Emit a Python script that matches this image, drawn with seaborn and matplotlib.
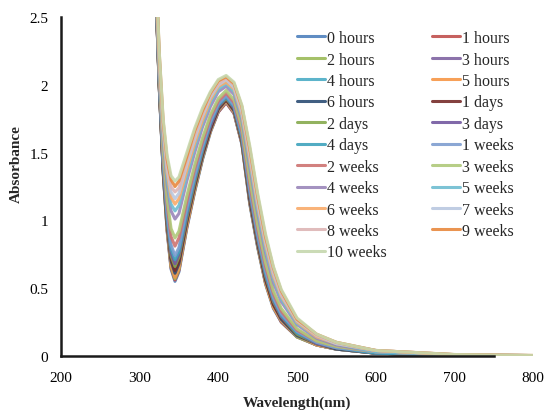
import matplotlib
matplotlib.use("Agg")
import matplotlib.pyplot as plt
import seaborn as sns
import pandas as pd

# wavelength grid (nm)
wavelength = [320, 325, 330, 335, 340, 345, 350, 360, 370, 380, 390, 400, 410,
              420, 430, 440, 450, 460, 470, 480, 500, 525, 550, 600, 700, 800]

series_names = ["0 hours", "1 hours", "2 hours", "3 hours", "4 hours", "5 hours",
                "6 hours", "1 days", "2 days", "3 days", "4 days", "1 weeks",
                "2 weeks", "3 weeks", "4 weeks", "5 weeks", "6 weeks", "7 weeks",
                "8 weeks", "9 weeks", "10 weeks"]

abs_0h = [2.80, 1.98, 1.35, 0.92, 0.64, 0.55, 0.62, 0.94, 1.21, 1.45, 1.65, 1.80, 1.87, 1.79, 1.56, 1.12, 0.80, 0.53, 0.35, 0.25, 0.14, 0.08, 0.05, 0.02, 0.005, 0.0]
abs_1h = [2.80, 1.99, 1.36, 0.93, 0.65, 0.56, 0.63, 0.95, 1.22, 1.46, 1.66, 1.80, 1.87, 1.79, 1.57, 1.13, 0.81, 0.54, 0.36, 0.25, 0.14, 0.08, 0.05, 0.02, 0.005, 0.0]
abs_2h = [2.81, 1.99, 1.36, 0.94, 0.66, 0.57, 0.64, 0.96, 1.22, 1.46, 1.66, 1.81, 1.88, 1.80, 1.57, 1.13, 0.81, 0.54, 0.36, 0.26, 0.14, 0.08, 0.05, 0.02, 0.005, 0.0]
abs_3h = [2.81, 1.99, 1.37, 0.95, 0.68, 0.59, 0.66, 0.97, 1.23, 1.47, 1.67, 1.81, 1.88, 1.80, 1.57, 1.14, 0.82, 0.55, 0.37, 0.26, 0.15, 0.08, 0.05, 0.02, 0.005, 0.0]
abs_4h = [2.81, 2.00, 1.37, 0.95, 0.68, 0.59, 0.66, 0.97, 1.24, 1.47, 1.67, 1.81, 1.88, 1.80, 1.58, 1.15, 0.82, 0.55, 0.37, 0.26, 0.15, 0.08, 0.05, 0.02, 0.005, 0.0]
abs_5h = [2.81, 1.99, 1.37, 0.94, 0.67, 0.58, 0.65, 0.96, 1.23, 1.47, 1.66, 1.81, 1.88, 1.80, 1.57, 1.14, 0.82, 0.54, 0.36, 0.26, 0.15, 0.08, 0.05, 0.02, 0.005, 0.0]
abs_6h = [2.82, 2.00, 1.38, 0.97, 0.70, 0.61, 0.68, 0.99, 1.25, 1.48, 1.67, 1.82, 1.89, 1.81, 1.58, 1.15, 0.83, 0.56, 0.38, 0.27, 0.15, 0.09, 0.05, 0.02, 0.005, 0.0]
abs_1d = [2.82, 2.01, 1.39, 0.98, 0.72, 0.63, 0.70, 1.00, 1.26, 1.49, 1.68, 1.83, 1.89, 1.82, 1.59, 1.17, 0.84, 0.57, 0.38, 0.28, 0.16, 0.09, 0.06, 0.02, 0.006, 0.0]
abs_2d = [2.83, 2.02, 1.41, 1.00, 0.74, 0.66, 0.73, 1.02, 1.28, 1.51, 1.70, 1.84, 1.90, 1.83, 1.60, 1.19, 0.86, 0.59, 0.40, 0.29, 0.16, 0.09, 0.06, 0.02, 0.006, 0.0]
abs_3d = [2.84, 2.03, 1.42, 1.02, 0.76, 0.68, 0.75, 1.04, 1.30, 1.52, 1.70, 1.84, 1.91, 1.83, 1.61, 1.20, 0.87, 0.60, 0.41, 0.29, 0.17, 0.09, 0.06, 0.02, 0.006, 0.0]
abs_4d = [2.84, 2.04, 1.44, 1.04, 0.79, 0.71, 0.77, 1.06, 1.31, 1.53, 1.72, 1.85, 1.91, 1.84, 1.62, 1.22, 0.89, 0.61, 0.42, 0.30, 0.17, 0.10, 0.06, 0.02, 0.006, 0.0]
abs_1w = [2.85, 2.05, 1.45, 1.07, 0.82, 0.74, 0.80, 1.09, 1.33, 1.55, 1.73, 1.86, 1.92, 1.85, 1.64, 1.23, 0.90, 0.63, 0.43, 0.31, 0.18, 0.10, 0.06, 0.03, 0.006, 0.001]
abs_2w = [2.87, 2.08, 1.49, 1.12, 0.88, 0.81, 0.87, 1.14, 1.38, 1.58, 1.76, 1.88, 1.94, 1.87, 1.66, 1.27, 0.94, 0.66, 0.46, 0.33, 0.19, 0.11, 0.07, 0.03, 0.007, 0.001]
abs_3w = [2.89, 2.10, 1.52, 1.16, 0.94, 0.87, 0.92, 1.18, 1.41, 1.61, 1.78, 1.90, 1.96, 1.89, 1.69, 1.31, 0.97, 0.69, 0.48, 0.35, 0.20, 0.11, 0.07, 0.03, 0.007, 0.001]
abs_4w = [2.92, 2.15, 1.60, 1.27, 1.07, 1.01, 1.05, 1.29, 1.50, 1.69, 1.84, 1.95, 1.99, 1.93, 1.74, 1.39, 1.05, 0.76, 0.54, 0.40, 0.23, 0.13, 0.08, 0.03, 0.008, 0.002]
abs_5w = [2.94, 2.17, 1.63, 1.31, 1.12, 1.07, 1.11, 1.33, 1.54, 1.72, 1.87, 1.97, 2.01, 1.95, 1.76, 1.42, 1.08, 0.79, 0.57, 0.42, 0.24, 0.14, 0.09, 0.03, 0.009, 0.002]
abs_6w = [2.95, 2.19, 1.66, 1.35, 1.17, 1.12, 1.16, 1.37, 1.57, 1.74, 1.89, 1.99, 2.02, 1.97, 1.78, 1.45, 1.11, 0.82, 0.59, 0.44, 0.25, 0.14, 0.09, 0.04, 0.009, 0.002]
abs_7w = [2.97, 2.20, 1.68, 1.39, 1.21, 1.16, 1.20, 1.41, 1.60, 1.77, 1.91, 2.00, 2.04, 1.98, 1.80, 1.48, 1.13, 0.84, 0.61, 0.45, 0.26, 0.15, 0.09, 0.04, 0.009, 0.002]
abs_8w = [2.98, 2.22, 1.71, 1.42, 1.25, 1.21, 1.24, 1.44, 1.63, 1.79, 1.93, 2.01, 2.05, 2.00, 1.82, 1.50, 1.16, 0.86, 0.63, 0.46, 0.27, 0.15, 0.10, 0.04, 0.009, 0.003]
abs_9w = [2.99, 2.24, 1.73, 1.45, 1.30, 1.25, 1.29, 1.47, 1.66, 1.81, 1.94, 2.03, 2.06, 2.01, 1.84, 1.53, 1.18, 0.88, 0.65, 0.48, 0.27, 0.16, 0.10, 0.04, 0.010, 0.003]
abs_10w = [3.00, 2.25, 1.75, 1.48, 1.33, 1.29, 1.32, 1.50, 1.68, 1.83, 1.95, 2.04, 2.07, 2.02, 1.85, 1.55, 1.20, 0.90, 0.66, 0.49, 0.28, 0.16, 0.10, 0.04, 0.010, 0.003]

all_series = [abs_0h, abs_1h, abs_2h, abs_3h, abs_4h, abs_5h, abs_6h, abs_1d, abs_2d,
              abs_3d, abs_4d, abs_1w, abs_2w, abs_3w, abs_4w, abs_5w, abs_6w, abs_7w,
              abs_8w, abs_9w, abs_10w]

colors = ["#4F81BD", "#C0504D", "#9BBB59", "#8064A2", "#4BACC6", "#F79646",
          "#2C4D75", "#772C2A", "#86AA4E", "#7359A0", "#3FA3BD", "#7E9ED0",
          "#CD7371", "#AFC97A", "#9A86BA", "#6FBDD1", "#F9AB6B", "#B9C8E0",
          "#DDB5B5", "#E8883E", "#C6D8AE"]

sns.set_style("white")
plt.rcParams['font.family'] = ['Liberation Serif', 'DejaVu Serif']

fig = plt.figure(figsize=(5.48, 4.14), dpi=100)
ax = fig.add_axes([0.111, 0.138, 0.862, 0.818])

for name, vals, c in zip(series_names, all_series, colors):
    df = pd.DataFrame({'wl': wavelength, 'abs': vals})
    sns.lineplot(data=df, x='wl', y='abs', color=c, label=name, linewidth=2.2,
                 alpha=0.9, ax=ax, sort=False)

ax.set_xlim(200, 800)
ax.set_ylim(0, 2.5)
ax.set_xticks([200, 300, 400, 500, 600, 700, 800])
ax.set_yticks([0, 0.5, 1, 1.5, 2, 2.5])
ax.set_yticklabels(["0", "0.5", "1", "1.5", "2", "2.5"])
ax.tick_params(axis='both', length=0, labelsize=11, colors='black')
ax.tick_params(axis='x', pad=11)
ax.tick_params(axis='y', pad=9)

for s in ['top', 'right']:
    ax.spines[s].set_visible(False)
for s in ['left', 'bottom']:
    ax.spines[s].set_color('#1a1a1a')
    ax.spines[s].set_linewidth(1.8)
ax.spines['bottom'].set_bounds(200, 750)

ax.set_xlabel("Wavelength(nm)", fontsize=11, fontweight='bold')
ax.set_ylabel("Absorbance", fontsize=11, fontweight='bold')
ax.xaxis.set_label_coords(0.5, -0.118)
ax.yaxis.set_label_coords(-0.08, 0.57)

# legend fills row by row in the reference
handles, labels = ax.get_legend_handles_labels()
order = list(range(0, len(handles), 2)) + list(range(1, len(handles), 2))
ax.legend([handles[i] for i in order], [labels[i] for i in order], ncol=2,
          loc='upper left', bbox_to_anchor=(0.5, 0.962), frameon=False,
          fontsize=11.5, handlelength=1.75, handletextpad=0.15,
          columnspacing=2.8, labelspacing=0.34, borderpad=0, borderaxespad=0)

fig.savefig("out.png", dpi=100)
